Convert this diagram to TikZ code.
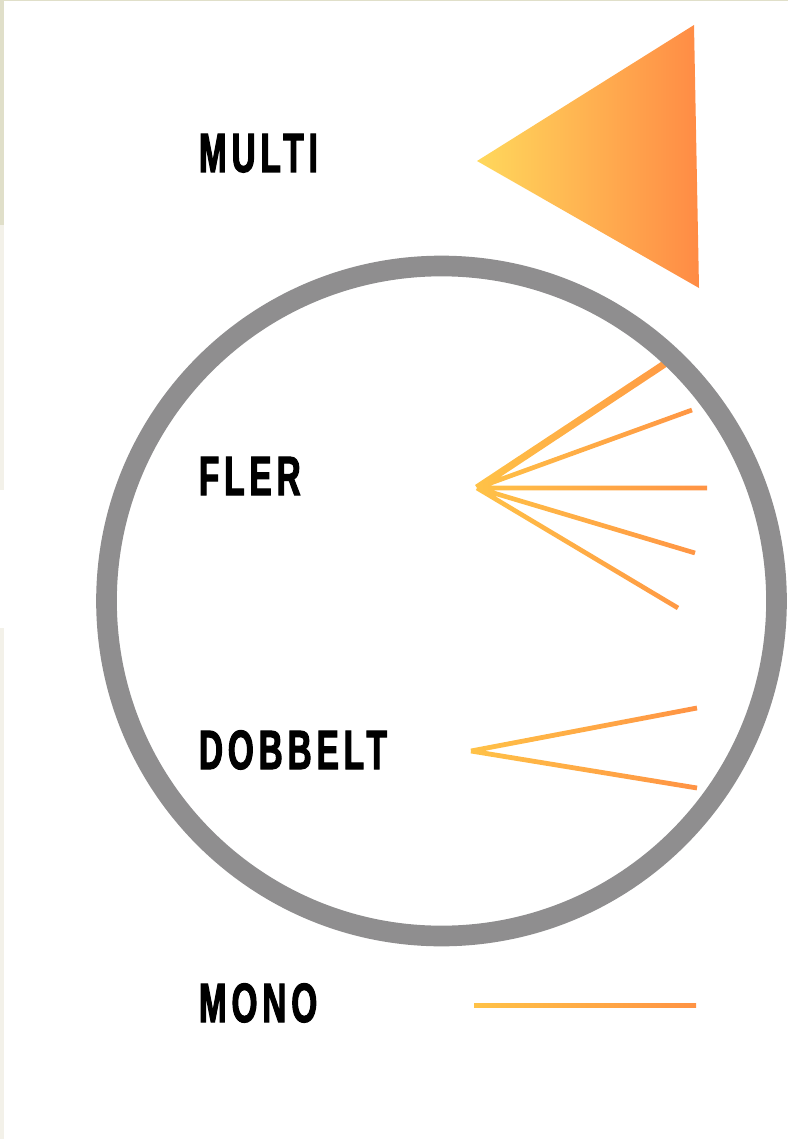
\documentclass[tikz,border=0pt]{standalone}
\usepackage{fontspec}
\newfontfamily\labfont[FakeStretch=0.6,LetterSpace=9,FakeBold=2]{Liberation Sans Bold}
\usetikzlibrary{calc}
\definecolor{ringgrey}{HTML}{8F8E8F}
\definecolor{ylo}{HTML}{FFD85C}
\definecolor{org}{HTML}{FF8B45}
\definecolor{raylo}{HTML}{FFC347}
\definecolor{rayorg}{HTML}{FF9244}
\definecolor{stripA}{HTML}{E0DFC9}
\definecolor{stripB}{HTML}{F3F1E9}
\newcommand{\rayquad}[3]{($(#1)!#3!90:(#2)$) -- ($(#2)!#3!-90:(#1)$) -- ($(#2)!#3!90:(#1)$) -- ($(#1)!#3!-90:(#2)$) -- cycle}
\begin{document}
\begin{tikzpicture}[x=0.75pt,y=-0.75pt,
  lab/.style={anchor=base west,inner sep=0pt,outer sep=0pt,text=black,font=\labfont\fontsize{41.5}{41.5}\selectfont},
  raygrad/.style={left color=raylo,right color=rayorg}]
\useasboundingbox (0,0) rectangle (788,1141);
% edge strips
\fill[stripA] (0,0) rectangle (788,1.5);
\fill[stripA] (0,0) rectangle (4,225);
\fill[stripB] (0,225) rectangle (4,490);
\fill[stripB] (0,628) rectangle (4,1139);

% MULTI triangle
\coordinate (tl) at (477,161);
\coordinate (tt) at (694,25);
\coordinate (tb) at (699,288);
\shade[left color=ylo,right color=org] (tl) -- (tt) -- (tb) -- cycle;

% FLER rays
\coordinate (fa) at (477,488);
\coordinate (f1) at (666,363);
\coordinate (f2) at (692,410);
\coordinate (f3) at (707,488);
\coordinate (f4) at (695,553);
\coordinate (f5) at (678,608);
\begin{scope}
\clip \rayquad{fa}{f1}{2.7pt} \rayquad{fa}{f2}{1.75pt} \rayquad{fa}{f3}{1.75pt} \rayquad{fa}{f4}{1.75pt} \rayquad{fa}{f5}{1.75pt};
\shade[raygrad] (470,355) rectangle (712,615);
\end{scope}

% DOBBELT rays
\coordinate (da) at (471,751);
\coordinate (d1) at (697,708);
\coordinate (d2) at (697,788);
\begin{scope}
\clip \rayquad{da}{d1}{1.8pt} \rayquad{da}{d2}{1.8pt};
\shade[raygrad] (465,700) rectangle (700,795);
\end{scope}

% MONO ray
\coordinate (ma) at (474,1005.5);
\coordinate (mb) at (696,1005.5);
\begin{scope}
\clip \rayquad{ma}{mb}{1.8pt};
\shade[raygrad] (470,998) rectangle (700,1012);
\end{scope}

% ring
\node (ring) [circle,draw=ringgrey,line width=15.5pt,minimum size=670*0.75pt,inner sep=0pt] at (441.5,601) {};

% labels
\node[lab] (multi) at (199,172) {MULTI};
\node[lab] (fler) at (199,495) {FLER};
\node[lab] (dobbelt) at (199,769) {DOBBELT};
\node[lab] (mono) at (199,1022) {MONO};
\end{tikzpicture}
\end{document}
